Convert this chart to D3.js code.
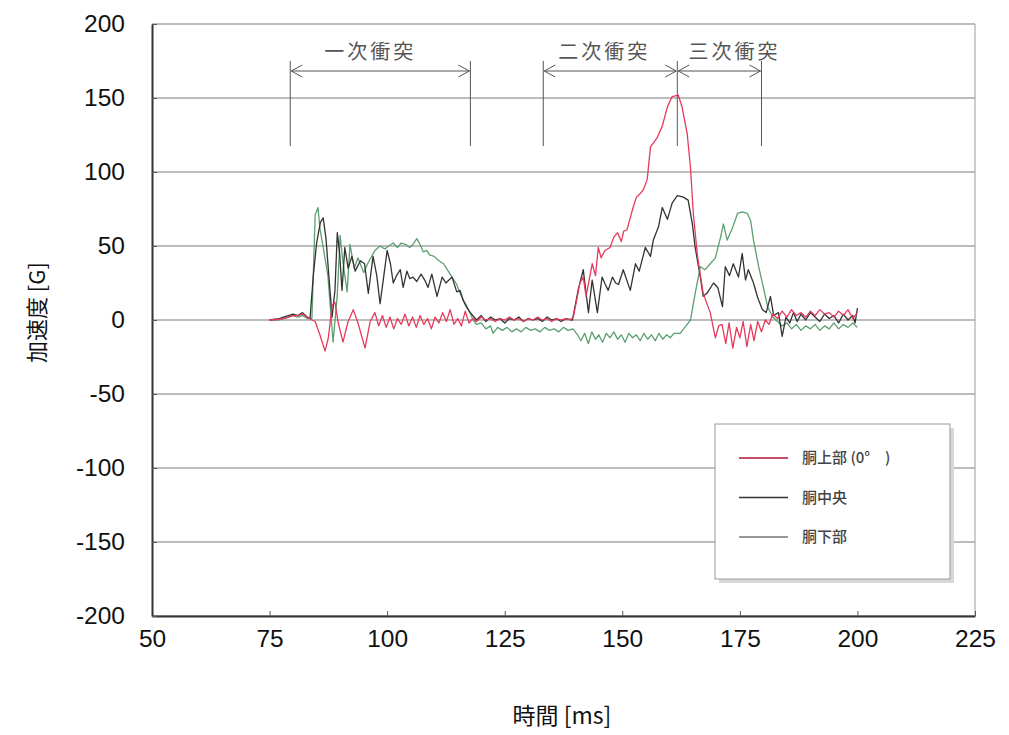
<html>
<head>
<meta charset="utf-8">
<script src="https://cdn.jsdelivr.net/npm/d3@7"></script>
<style>
  body { margin: 0; background: #fff; }
  svg { font-family: "Liberation Sans", Arial, sans-serif; }
  .tick text { fill: #111; }
  .jp { font-family: "Noto Sans CJK JP", sans-serif; }
</style>
</head>
<body>
<script>
// 胴上部 (0°) : time [ms], acceleration [G]
var upper = [[75,0],[77,0.5],[78,1],[79,2],[80,3],[81,3],[82,4],[83,2],[84,0],[84.7,-1],[85.7,-10],[86.8,-21],[87.5,-12],[88.3,10],[88.9,12],[89.6,-2],[90.6,-15],[91.7,-1],[92.8,7],[93.8,-2],[95.3,-19],[96.4,-1],[97.4,5],[98.2,-4],[99,3],[99.8,-5],[100.6,2],[101.4,-6],[102.2,1],[103,-3],[103.8,4],[104.6,-4],[105.4,2],[106.2,-5],[107,3],[107.8,-3],[108.6,1],[109.4,-6],[110.2,2],[111,-2],[111.8,5],[112.6,-1],[113.4,7],[114.2,-3],[115,1],[115.8,-4],[116.6,6],[117.4,-2],[118.2,1],[119,-1],[120,2],[121,0],[122,1],[123,-1],[124,1],[125,0],[126,2],[127,0],[128,1],[129,-1],[130,1],[131,0],[132,2],[133,0],[134,1],[135,-1],[136,1],[137,0],[138,1],[139,0],[139.6,2],[141,25],[141.7,29],[142.3,16],[143.6,38],[144.3,30],[144.9,49],[145.5,42],[146.3,47],[147.4,49],[148.2,56],[149,59],[149.8,53],[150.3,60],[151,61],[151.6,68],[152.3,76],[153,83],[153.7,85],[154.5,88],[155.3,95],[156,117],[157.4,123],[158.5,131],[159.6,144],[160.6,151],[161.9,152],[162.7,144],[163.8,126],[164.5,103],[165.1,72],[166,43],[167.2,18],[168.7,5],[169.8,-12],[170.5,-4],[171.2,-3],[172,-16],[172.7,-2],[173.5,-19],[174.3,-5],[175,-12],[175.7,-1],[176.5,-18],[177.3,-3],[178,-14],[178.8,-1],[179.6,-8],[180.4,0],[181.2,-3],[182,4],[183,1],[184,6],[185,2],[186,7],[187,3],[188,5],[189,2],[190,6],[191,3],[192,7],[193,4],[194,5],[195,2],[196,6],[197,3],[198,7],[199,1],[200,5]];

// 胴中央
var middle = [[75,0],[77,1],[78,2],[79,3],[80,4],[81,3],[82,5],[83,2],[83.6,1],[84.3,30],[85,52],[85.8,66],[86.4,69],[87,55],[87.6,30],[88.3,2],[88.9,20],[89.4,59],[89.9,45],[90.4,20],[91,49],[91.7,35],[92.5,43],[93.2,33],[94.3,40],[95.2,38],[96,18],[97,43],[97.8,30],[98.5,11],[99.3,30],[100,47],[100.7,38],[101.3,25],[102,30],[102.8,34],[103.4,22],[104.2,33],[104.8,28],[105.5,29],[106.3,26],[107.2,31],[108,27],[108.7,22],[109.5,31],[110.6,16],[111.7,29],[112.5,25],[113.8,29],[114.8,19],[115.5,20],[116.2,13],[117,8],[117.7,5],[119,0],[120,3],[121,-1],[122,2],[123,0],[124,1],[125,-2],[126,1],[127,0],[128,2],[129,-1],[130,1],[131,0],[132,1],[133,-1],[134,2],[135,0],[136,1],[137,-1],[138,1],[139.4,0],[140.6,20],[141.7,34],[142.8,5],[143.6,27],[144.7,5],[145.7,29],[146.4,24],[147,20],[147.9,29],[148.6,25],[149.2,24],[150.2,34],[151.7,20],[152.8,38],[153.6,33],[154.9,49],[156,43],[156.6,54],[157.7,63],[158.5,76],[159.6,68],[160.6,79],[161.7,84],[163,83],[164,81],[164.9,65],[165.5,49],[166.6,29],[167.2,16],[168,18],[169.4,25],[170.3,22],[171.3,9],[171.9,36],[172.8,30],[173.6,38],[174.7,29],[175.5,45],[176.2,27],[176.8,34],[177.9,25],[178.8,15],[179.8,7],[180.6,5],[181.5,16],[182.2,3],[183.2,5],[184,-11],[184.8,2],[185.6,-2],[186.4,5],[187.2,-1],[188,4],[189,0],[190,5],[191,2],[192,-1],[193,4],[194,1],[195,3],[196,-2],[197,4],[198,0],[199,3],[199.5,-2],[200,8]];

// 胴下部
var lower = [[75,0],[77,0],[78,1],[79,2],[80,3],[81,2],[82,3],[83,1],[84,1],[84.7,71],[85.3,76],[85.7,62],[86.4,49],[87.4,30],[88.5,-15],[89.4,17],[90,57],[90.6,39],[91.5,19],[92.1,51],[93,35],[93.8,42],[95,32],[96,39],[97.4,47],[98.5,50],[99.5,48],[100.3,50],[101.3,52],[102.2,49],[103,52],[104,51],[104.8,49],[105.5,51],[106.3,55],[107,51],[107.7,46],[108.4,47],[109,44],[110,43],[111,40],[112,38],[113,33],[114,28],[114.8,24],[115.5,18],[116.3,13],[117,9],[118.3,0],[119,-3],[120,-2],[121,-6],[122,-4],[122.5,-9],[123.5,-5],[124.5,-7],[125.5,-5],[126.5,-8],[127.5,-6],[128.5,-8],[129.5,-5],[130.5,-7],[131.5,-6],[132.5,-8],[133.5,-5],[134.5,-7],[135.5,-6],[136.5,-8],[137.5,-5],[138.5,-7],[139.5,-6],[140.5,-10],[141.2,-14],[142,-9],[142.8,-16],[143.5,-8],[144.3,-13],[145,-10],[145.8,-15],[146.6,-9],[147.4,-12],[148.2,-8],[149,-13],[149.8,-10],[150.6,-15],[151.4,-9],[152.2,-12],[153,-10],[153.8,-14],[154.6,-9],[155.4,-13],[156.2,-10],[157,-14],[157.8,-9],[158.6,-13],[159.4,-10],[160.2,-12],[161,-9],[162.3,-9],[163.3,-5],[164.5,0],[165.5,18],[166.6,36],[167.6,34],[168.7,38],[169.8,42],[170.9,56],[171.5,65],[172.3,54],[173.4,62],[174.5,72],[175.5,73],[176.6,72],[177.3,67],[177.9,54],[179,36],[180,22],[180.9,9],[182,2],[183,-1],[184,-4],[185,-2],[186,-6],[187,-3],[188,-7],[189,-4],[190,-6],[191,-3],[192,-7],[193,-4],[194,-6],[195,-2],[196,-6],[197,-3],[198,-5],[199,-2],[200,-5]];

var seriesNames = ["胴上部 (0°\u3000)", "胴中央", "胴下部"];
var seriesColors = ["#e63a5c", "#333333", "#5c9f70"];
var legendColors = ["#b3122e", "#333333", "#777777"];

var xTicks = [50, 75, 100, 125, 150, 175, 200, 225];
var yTicks = [-200, -150, -100, -50, 0, 50, 100, 150, 200];

// impact phases: start, end [ms], label
var phases = [[79.4, 117.7, "一次衝突"], [133.2, 161.7, "二次衝突"], [161.7, 179.6, "三次衝突"]];
var labelShift = [-10, -6, 15];

var width = 1009, height = 735;

var svg = d3.select("body").append("svg")
    .attr("width", width)
    .attr("height", height);

var x = d3.scaleLinear().domain([50, 225]).range([152, 975]);
var y = d3.scaleLinear().domain([-200, 200]).range([616, 24]);

// horizontal grid
svg.append("g")
    .selectAll("line")
    .data(yTicks)
    .enter().append("line")
    .attr("x1", x(50)).attr("x2", x(225))
    .attr("y1", function(d) { return y(d); })
    .attr("y2", function(d) { return y(d); })
    .attr("stroke", "#7a7a7a")
    .attr("stroke-width", 1.2);

// right frame
svg.append("line")
    .attr("x1", x(225)).attr("x2", x(225))
    .attr("y1", y(200)).attr("y2", y(-200))
    .attr("stroke", "#aaa").attr("stroke-width", 1.2);

// axes
var fmt = function(d) { return String(d); };
var xAxis = svg.append("g")
    .attr("transform", "translate(0," + y(-200) + ")")
    .call(d3.axisBottom(x).tickValues(xTicks).tickFormat(fmt).tickSizeInner(-5).tickSizeOuter(0).tickPadding(14));
var yAxis = svg.append("g")
    .attr("transform", "translate(" + x(50) + ",0)")
    .call(d3.axisLeft(y).tickValues(yTicks).tickFormat(fmt).tickSizeInner(-5).tickSizeOuter(0).tickPadding(27));

[xAxis, yAxis].forEach(function(a) {
    a.select(".domain").attr("stroke", "#333").attr("stroke-width", 2);
    a.selectAll(".tick line").attr("stroke", "#555");
    a.selectAll(".tick text").attr("font-size", 24.5);
});

// axis titles
svg.append("text")
    .attr("class", "jp")
    .attr("x", 562).attr("y", 724)
    .attr("text-anchor", "middle")
    .attr("font-size", 23)
    .attr("fill", "#111")
    .text("時間 [ms]");

svg.append("text")
    .attr("class", "jp")
    .attr("transform", "translate(45," + y(5) + ") rotate(-90)")
    .attr("text-anchor", "middle")
    .attr("font-size", 22)
    .attr("fill", "#111")
    .text("加速度 [G]");

// data lines
var line = d3.line()
    .x(function(d) { return x(d[0]); })
    .y(function(d) { return y(d[1]); });

var allSeries = [lower, middle, upper];
var drawColors = [seriesColors[2], seriesColors[1], seriesColors[0]];

svg.append("g")
    .selectAll("path")
    .data(allSeries)
    .enter().append("path")
    .attr("d", line)
    .attr("fill", "none")
    .attr("stroke", function(d, i) { return drawColors[i]; })
    .attr("stroke-width", 1.3)
    .attr("stroke-linejoin", "round");

// phase annotations
var ann = svg.append("g");
var edges = [];
phases.forEach(function(p) {
    if (edges.indexOf(p[0]) < 0) edges.push(p[0]);
    if (edges.indexOf(p[1]) < 0) edges.push(p[1]);
});

ann.selectAll("line.edge")
    .data(edges)
    .enter().append("line")
    .attr("x1", function(d) { return x(d); })
    .attr("x2", function(d) { return x(d); })
    .attr("y1", 61).attr("y2", 146)
    .attr("stroke", "#555").attr("stroke-width", 1);

var arrowY = 71;
phases.forEach(function(p, i) {
    var x0 = x(p[0]) + 1, x1 = x(p[1]) - 1;
    ann.append("line")
        .attr("x1", x0).attr("x2", x1)
        .attr("y1", arrowY).attr("y2", arrowY)
        .attr("stroke", "#555").attr("stroke-width", 1);
    ann.append("path")
        .attr("d", "M" + (x0 + 11) + "," + (arrowY - 6) + "L" + x0 + "," + arrowY + "L" + (x0 + 11) + "," + (arrowY + 6))
        .attr("fill", "none").attr("stroke", "#555").attr("stroke-width", 1);
    ann.append("path")
        .attr("d", "M" + (x1 - 11) + "," + (arrowY - 6) + "L" + x1 + "," + arrowY + "L" + (x1 - 11) + "," + (arrowY + 6))
        .attr("fill", "none").attr("stroke", "#555").attr("stroke-width", 1);
    ann.append("text")
        .attr("class", "jp")
        .attr("x", (x0 + x1) / 2 + labelShift[i])
        .attr("y", 59)
        .attr("text-anchor", "middle")
        .attr("font-size", 20)
        .attr("letter-spacing", 3)
        .attr("fill", "#555")
        .text(p[2]);
});

// legend
var lg = svg.append("g").attr("transform", "translate(715,424)");
lg.append("rect")
    .attr("x", 4).attr("y", 4).attr("width", 235).attr("height", 155)
    .attr("fill", "#d8d8d8");
lg.append("rect")
    .attr("x", 0).attr("y", 0).attr("width", 235).attr("height", 155)
    .attr("fill", "#fff").attr("stroke", "#9a9a9a").attr("stroke-width", 1);

var item = lg.selectAll("g.item")
    .data(seriesNames)
    .enter().append("g")
    .attr("transform", function(d, i) { return "translate(0," + (34 + i * 39.5) + ")"; });
item.append("line")
    .attr("x1", 24).attr("x2", 73)
    .attr("stroke", function(d, i) { return legendColors[i]; })
    .attr("stroke-width", 1.6);
item.append("text")
    .attr("class", "jp")
    .attr("x", 87).attr("y", 5)
    .attr("font-size", 15)
    .attr("font-weight", 500)
    .attr("fill", "#444")
    .text(function(d) { return d; });
</script>
</body>
</html>
